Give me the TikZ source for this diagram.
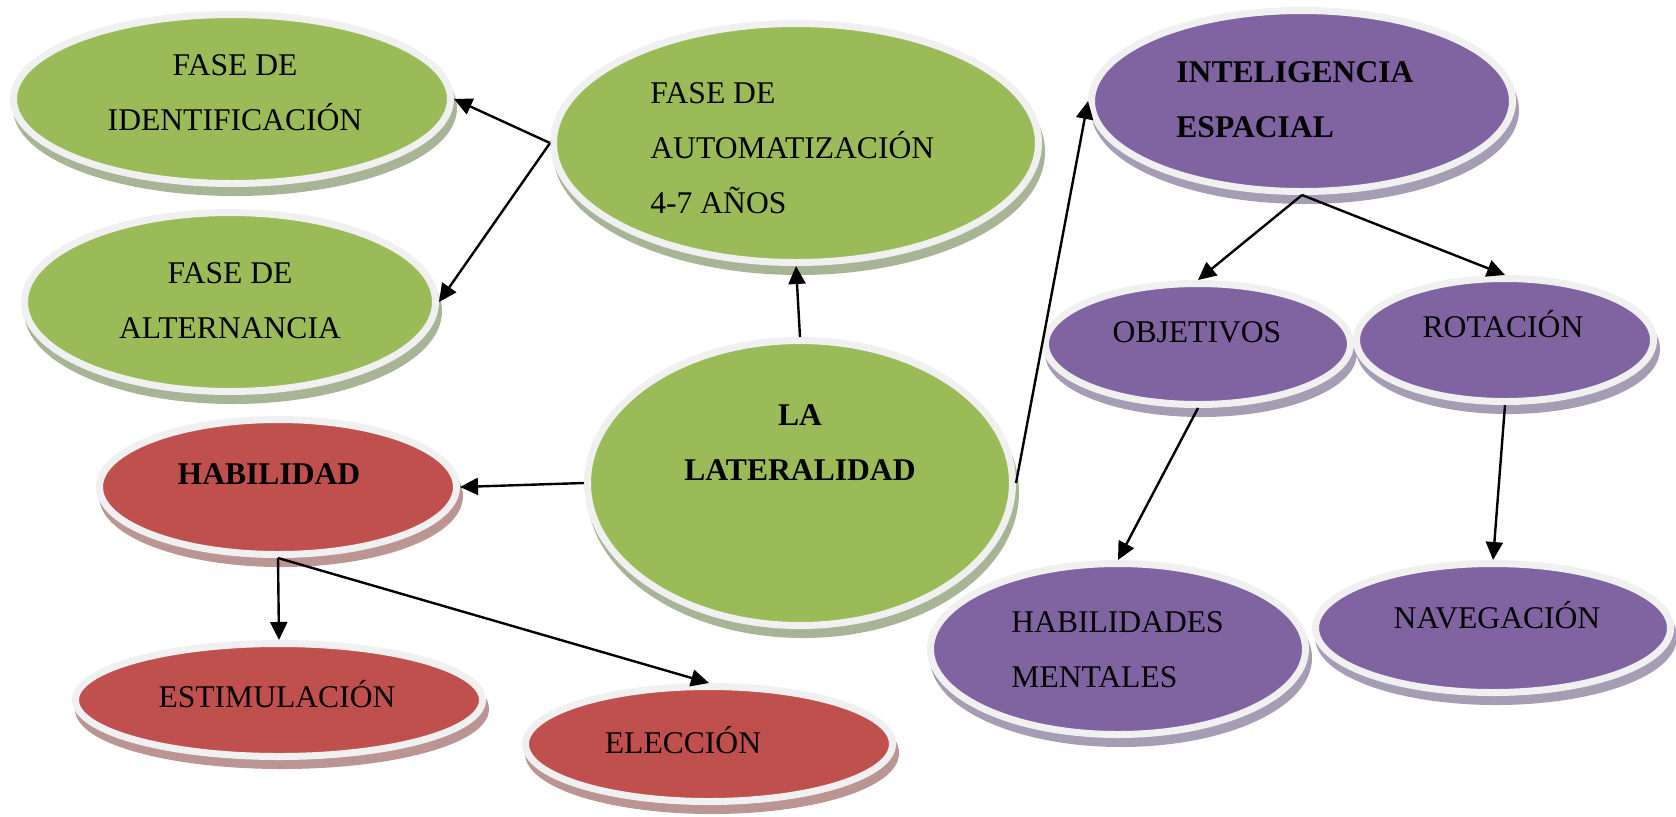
\documentclass[tikz,border=0pt]{standalone}
\usepackage{fontspec}
\setmainfont{Liberation Serif}
\usetikzlibrary{shapes.geometric,arrows.meta}
\definecolor{gr}{HTML}{9BBB59}
\definecolor{pu}{HTML}{8064A2}
\definecolor{rd}{HTML}{C0504D}
\definecolor{grs}{HTML}{A7B496}
\definecolor{pus}{HTML}{A59DB3}
\definecolor{rds}{HTML}{BA9594}
\definecolor{rim}{HTML}{F0F0F0}
\begin{document}
\begin{tikzpicture}[x=0.5pt,y=-0.5pt,
  ell/.style n args={4}{ellipse, inner sep=0pt, line width=3.5pt, draw=rim, fill=#1,
    minimum width={(#3-7)*0.5pt}, minimum height={(#4-7)*0.5pt},
    preaction={fill=#2, draw=#2, transform canvas={xshift=1.5pt,yshift=-4.5pt}}},
  gell/.style 2 args={ell={gr}{grs}{#1}{#2}},
  pell/.style 2 args={ell={pu}{pus}{#1}{#2}},
  rell/.style 2 args={ell={rd}{rds}{#1}{#2}},
  txt/.style={font=\fontsize{15.8pt}{27.5pt}\selectfont, inner sep=0pt},
  btxt/.style={txt, font=\fontsize{15.8pt}{27.5pt}\selectfont\bfseries},
  conn/.style={line width=1.2pt, -{Triangle[length=9pt,width=8.5pt]}}]
\path[use as bounding box, fill=white] (0,0) rectangle (1676,816);

% ellipses
\node[gell={444}{176}] (ident) at (232,99) {};
\node[gell={418}{186}] (alter) at (230,302) {};
\node[gell={492}{246}] (autom) at (796,143) {};
\node[pell={428}{188}] (intel) at (1302,101) {};
\node[pell={312}{128}] (obj) at (1198,344) {};
\node[pell={304}{130}] (rot) at (1505,340) {};
\node[gell={432}{292}] (lat) at (800,483) {};
\node[rell={364}{142}] (hab) at (278,487) {};
\node[pell={382}{178}] (hm) at (1118,649) {};
\node[pell={362}{136}] (nav) at (1493,628) {};
\node[rell={414}{120}] (est) at (279,700) {};
\node[rell={374}{122}] (elec) at (709,744) {};

% texts
\node[txt, anchor=base] (tident) at (235,75) {\begin{tabular}[t]{@{}c@{}}FASE DE\\IDENTIFICACIÓN\end{tabular}};
\node[txt, anchor=base] (talter) at (230,283) {\begin{tabular}[t]{@{}c@{}}FASE DE\\ALTERNANCIA\end{tabular}};
\node[txt, anchor=base west] (tautom) at (650,103) {\begin{tabular}[t]{@{}l@{}}FASE DE\\AUTOMATIZACIÓN\\4-7 AÑOS\end{tabular}};
\node[btxt, anchor=base west] (tintel) at (1176,82) {\begin{tabular}[t]{@{}l@{}}INTELIGENCIA\\ESPACIAL\end{tabular}};
\node[txt, anchor=base] (tobj) at (1197,342) {OBJETIVOS};
\node[txt, anchor=base] (trot) at (1503,337) {ROTACIÓN};
\node[btxt, anchor=base] (tlat) at (800,425) {\begin{tabular}[t]{@{}c@{}}LA\\LATERALIDAD\end{tabular}};
\node[btxt, anchor=base] (thab) at (269,484) {HABILIDAD};
\node[txt, anchor=base west] (thm) at (1011,632) {\begin{tabular}[t]{@{}l@{}}HABILIDADES\\MENTALES\end{tabular}};
\node[txt, anchor=base] (tnav) at (1497,628) {NAVEGACIÓN};
\node[txt, anchor=base] (test) at (277,707) {ESTIMULACIÓN};
\node[txt, anchor=base] (telec) at (683,753) {ELECCIÓN};

% connectors
\draw[conn] (autom.west) -- (ident.east);
\draw[conn] (autom.west) -- (alter.east);
\draw[conn] (lat.north) -- (autom.south);
\draw[conn] (lat.west) -- (hab.east);
\draw[conn] (lat.east) -- (intel.west);
\draw[conn] (intel.south) -- (obj.north);
\draw[conn] (intel.south) -- (rot.north);
\draw[conn] (obj.south) -- (hm.north);
\draw[conn] (rot.south) -- (nav.north);
\draw[conn] (hab.south) -- (est.north);
\draw[conn] (hab.south) -- (elec.north);
\end{tikzpicture}
\end{document}
